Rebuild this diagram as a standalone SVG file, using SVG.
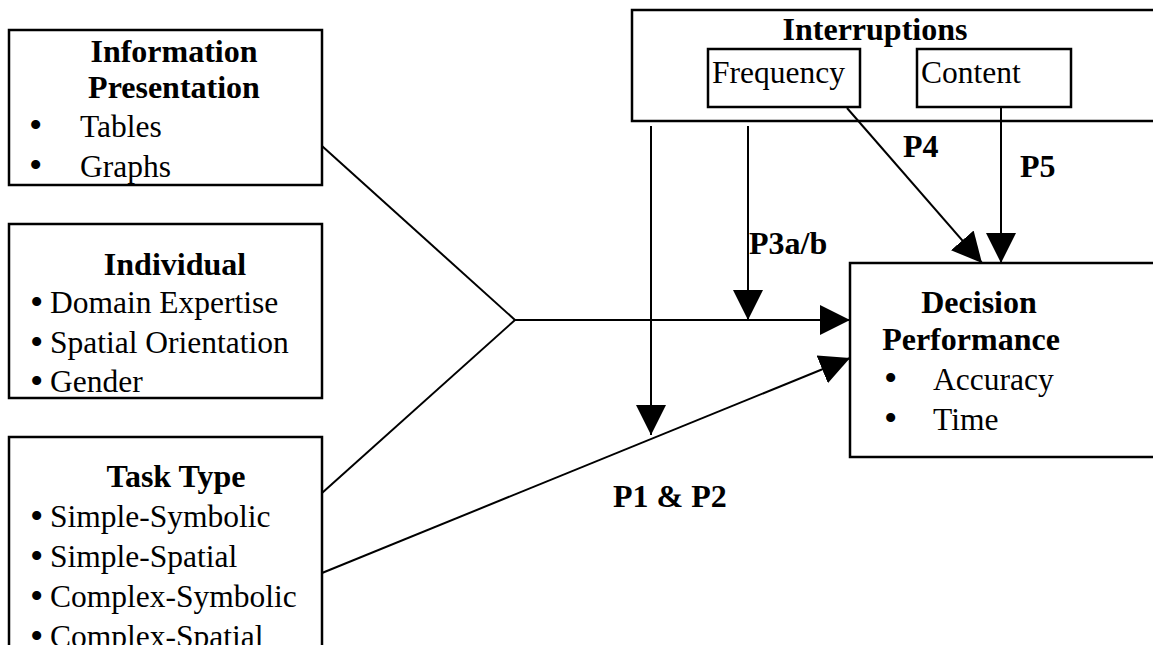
<svg xmlns="http://www.w3.org/2000/svg" width="1153" height="645" viewBox="0 0 1153 645">
  <style>
    .box { fill: #fff; stroke: #000; stroke-width: 2.5; }
    .ibox { fill: none; stroke: #000; stroke-width: 2.5; }
    .b { font-family: "Liberation Serif", "Times New Roman", serif; font-weight: bold; font-size: 32px; fill: #000; }
    .r { font-family: "Liberation Serif", "Times New Roman", serif; font-size: 31.5px; fill: #000; }
    .c { text-anchor: middle; }
    .bul { font-size: 38px; }
    .conn { stroke: #000; stroke-width: 2; fill: none; }
  </style>
  <defs>
    <marker id="arrow" markerUnits="userSpaceOnUse" markerWidth="30" markerHeight="30" refX="30" refY="15" orient="auto" viewBox="0 0 30 30">
      <path d="M0,0 L30,15 L0,30 z" fill="#000"/>
    </marker>
  </defs>
  <rect width="1153" height="645" fill="#fff"/>

  <g id="info">
    <rect class="box" x="9" y="30" width="313" height="155"/>
    <text class="b c" x="174" y="62">Information</text>
    <text class="b c" x="174" y="98">Presentation</text>
    <text class="r" x="29" y="138"><tspan class="bul">•</tspan><tspan x="80" y="137">Tables</tspan></text>
    <text class="r" x="29" y="178"><tspan class="bul">•</tspan><tspan x="80" y="177">Graphs</tspan></text>
  </g>

  <g id="individual">
    <rect class="box" x="9" y="224" width="313" height="174"/>
    <text class="b c" x="175" y="275">Individual</text>
    <text class="r" x="30" y="315"><tspan class="bul">•</tspan><tspan x="50" y="313">Domain Expertise</tspan></text>
    <text class="r" x="30" y="355"><tspan class="bul">•</tspan><tspan x="50" y="353">Spatial Orientation</tspan></text>
    <text class="r" x="30" y="394"><tspan class="bul">•</tspan><tspan x="50" y="392">Gender</tspan></text>
  </g>

  <g id="task">
    <rect class="box" x="9" y="437" width="313" height="230"/>
    <text class="b c" x="176" y="487">Task Type</text>
    <text class="r" x="30" y="529"><tspan class="bul">•</tspan><tspan x="50" y="527">Simple-Symbolic</tspan></text>
    <text class="r" x="30" y="569"><tspan class="bul">•</tspan><tspan x="50" y="567">Simple-Spatial</tspan></text>
    <text class="r" x="30" y="609"><tspan class="bul">•</tspan><tspan x="50" y="607">Complex-Symbolic</tspan></text>
    <text class="r" x="30" y="649"><tspan class="bul">•</tspan><tspan x="50" y="647">Complex-Spatial</tspan></text>
  </g>

  <g id="interruptions">
    <rect class="box" x="632" y="10" width="540" height="111"/>
    <text class="b c" x="875" y="40">Interruptions</text>
  </g>

  <g id="frequency">
    <rect class="ibox" x="708" y="49" width="152" height="58"/>
    <text class="r" x="712" y="83">Frequency</text>
  </g>

  <g id="content">
    <rect class="ibox" x="917" y="49" width="154" height="58"/>
    <text class="r" x="921" y="83">Content</text>
  </g>

  <g id="decision">
    <rect class="box" x="850" y="263" width="320" height="194"/>
    <text class="b c" x="979" y="313">Decision</text>
    <text class="b c" x="971" y="350">Performance</text>
    <text class="r" x="884" y="391"><tspan class="bul">•</tspan><tspan x="933" y="390">Accuracy</tspan></text>
    <text class="r" x="884" y="431"><tspan class="bul">•</tspan><tspan x="933" y="430">Time</tspan></text>
  </g>

  <g id="connectors">
    <line class="conn" x1="322" y1="146" x2="515" y2="320"/>
    <line class="conn" x1="322" y1="493" x2="515" y2="320"/>
    <line class="conn" x1="515" y1="320" x2="850" y2="320" marker-end="url(#arrow)"/>
    <line class="conn" x1="651" y1="126" x2="651" y2="435" marker-end="url(#arrow)"/>
    <line class="conn" x1="748" y1="126" x2="748" y2="320" marker-end="url(#arrow)"/>
    <line class="conn" x1="847" y1="108" x2="982" y2="263" marker-end="url(#arrow)"/>
    <line class="conn" x1="1001" y1="108" x2="1001" y2="263" marker-end="url(#arrow)"/>
    <line class="conn" x1="322" y1="573" x2="850" y2="358" marker-end="url(#arrow)"/>
  </g>

  <g id="labels">
    <text class="b" x="903" y="157">P4</text>
    <text class="b" x="1020" y="177">P5</text>
    <text class="b" x="749" y="254">P3a/b</text>
    <text class="b" x="613" y="507">P1 &amp; P2</text>
  </g>
</svg>
